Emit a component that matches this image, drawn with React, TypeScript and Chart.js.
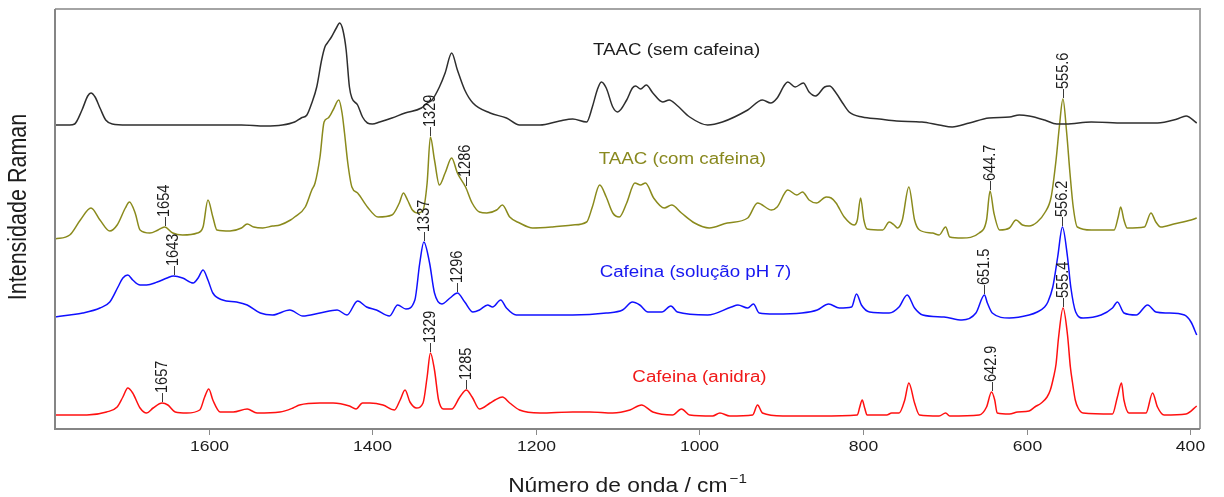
import { useEffect, useRef } from 'react';
import { Chart, registerables } from 'chart.js';

Chart.register(...registerables);

// Raman spectra: [wavenumber (cm-1), intensity (a.u.)], traces already stacked with offsets
const taacSemCafeina: [number, number][] = [
  [1788, 305], [1770, 305], [1764, 306], [1755, 320], [1748, 334], [1744, 337], [1739, 333], [1733, 322],
  [1726, 310], [1718, 306], [1700, 305], [1650, 305], [1600, 305], [1560, 305], [1531, 304], [1510, 305],
  [1495, 308], [1487, 312], [1480, 315], [1474, 327], [1468, 343], [1462, 370], [1458, 383], [1455, 387],
  [1450, 393], [1444, 402], [1440, 407], [1436, 400], [1432, 380], [1428, 343], [1425, 332], [1418, 325],
  [1412, 313], [1406, 307], [1400, 306], [1391, 308], [1376, 312], [1360, 317], [1340, 322], [1333, 327],
  [1327, 330], [1318, 343], [1311, 357], [1303, 377], [1296, 360], [1287, 340], [1277, 327], [1256, 317],
  [1236, 312], [1220, 305], [1195, 305], [1171, 309], [1155, 311], [1138, 308], [1131, 323], [1125, 340],
  [1120, 348], [1114, 342], [1106, 323], [1100, 318], [1089, 330], [1082, 342], [1078, 344], [1072, 341],
  [1065, 345], [1057, 337], [1045, 328], [1037, 330], [1028, 325], [1012, 313], [990, 305], [972, 308],
  [941, 320], [923, 330], [913, 327], [905, 332], [896, 345], [892, 348], [883, 343], [873, 347],
  [866, 338], [858, 334], [847, 343], [841, 344], [833, 337], [825, 327], [817, 318], [801, 313],
  [780, 311], [759, 309], [728, 308], [707, 305], [691, 303], [670, 307], [646, 312], [621, 313],
  [609, 315], [597, 314], [578, 310], [563, 306], [552, 306], [521, 308], [481, 307], [440, 307],
  [416, 311], [405, 314], [392, 307],
];

const taacComCafeina: [number, number][] = [
  [1788, 191], [1770, 195], [1757, 210], [1744, 222], [1733, 210], [1721, 199], [1712, 205], [1702, 222],
  [1697, 228], [1690, 217], [1684, 200], [1672, 197], [1662, 200], [1654, 203], [1644, 197], [1632, 195],
  [1614, 197], [1607, 203], [1601, 230], [1595, 213], [1590, 200], [1574, 199], [1560, 202], [1553, 206],
  [1545, 203], [1534, 202], [1522, 204], [1513, 205], [1500, 210], [1495, 213], [1482, 223], [1474, 240],
  [1470, 247], [1464, 273], [1459, 308], [1454, 312], [1448, 320], [1441, 330], [1437, 317], [1434, 297],
  [1430, 267], [1425, 243], [1418, 237], [1406, 223], [1393, 213], [1376, 215], [1367, 227], [1362, 237],
  [1357, 230], [1351, 220], [1344, 217], [1338, 220], [1333, 247], [1329, 293], [1324, 270], [1318, 245],
  [1311, 257], [1303, 272], [1296, 257], [1286, 243], [1278, 227], [1269, 218], [1260, 217], [1248, 220],
  [1241, 225], [1232, 213], [1220, 207], [1204, 202], [1180, 203], [1155, 205], [1138, 208], [1131, 223],
  [1122, 245], [1114, 233], [1106, 217], [1098, 213], [1089, 227], [1079, 247], [1072, 245], [1066, 247],
  [1056, 232], [1043, 222], [1034, 225], [1022, 217], [1006, 207], [988, 202], [966, 207], [941, 212],
  [929, 227], [912, 220], [905, 223], [892, 240], [881, 235], [874, 238], [866, 230], [857, 227],
  [845, 233], [839, 232], [833, 227], [823, 213], [811, 205], [807, 210], [803, 232], [799, 210],
  [795, 201], [776, 200], [768, 208], [762, 205], [758, 202], [752, 210], [744, 243], [737, 210],
  [731, 200], [715, 197], [707, 195], [699, 203], [694, 193], [679, 192], [658, 197], [649, 210],
  [644.7, 239], [640, 217], [633, 200], [621, 202], [613, 210], [605, 205], [597, 204], [587, 208],
  [578, 217], [570, 233], [564, 270], [560, 303], [555.6, 331], [551, 297], [547, 257], [543, 223],
  [538, 203], [521, 200], [493, 200], [488, 213], [485, 223], [481, 210], [477, 202], [456, 203],
  [448, 217], [442, 208], [436, 203], [420, 206], [399, 210], [392, 212],
];

const cafeinaSolucao: [number, number][] = [
  [1788, 113], [1770, 115], [1754, 117], [1733, 122], [1721, 128], [1711, 143], [1705, 152], [1699, 155],
  [1693, 150], [1684, 145], [1676, 145], [1663, 148], [1651, 152], [1643, 154], [1632, 152], [1619, 147],
  [1613, 152], [1607, 160], [1601, 150], [1595, 137], [1583, 130], [1566, 128], [1553, 125], [1537, 117],
  [1522, 115], [1501, 120], [1485, 114], [1464, 117], [1443, 120], [1431, 115], [1418, 129], [1407, 123],
  [1395, 120], [1379, 114], [1369, 125], [1359, 121], [1348, 130], [1342, 167], [1337, 188], [1330, 167],
  [1324, 137], [1315, 126], [1305, 132], [1296, 137], [1287, 128], [1277, 118], [1269, 120], [1259, 125],
  [1253, 123], [1243, 130], [1236, 122], [1224, 115], [1195, 115], [1155, 115], [1114, 117], [1094, 120],
  [1082, 128], [1073, 125], [1063, 118], [1046, 118], [1035, 124], [1027, 118], [990, 115], [961, 123],
  [953, 125], [941, 122], [934, 126], [927, 117], [908, 116], [875, 117], [856, 120], [842, 126],
  [829, 122], [814, 123], [808, 136], [802, 125], [792, 118], [768, 117], [756, 123], [746, 135],
  [737, 122], [727, 115], [701, 113], [679, 110], [662, 117], [651.5, 135], [648, 127], [642, 117],
  [621, 112], [597, 115], [587, 118], [578, 123], [574, 128], [568, 143], [562, 173], [556.2, 203],
  [550, 173], [546, 143], [540, 118], [531, 112], [509, 115], [495, 122], [489, 128], [481, 117],
  [466, 115], [452, 125], [442, 118], [428, 117], [407, 115], [399, 108], [392, 95],
];

const cafeinaAnidra: [number, number][] = [
  [1788, 15], [1749, 15], [1725, 18], [1712, 23], [1705, 33], [1699, 42], [1693, 37], [1684, 22],
  [1676, 17], [1668, 22], [1657, 27], [1650, 25], [1641, 18], [1627, 17], [1611, 20], [1605, 33],
  [1600, 41], [1595, 30], [1586, 18], [1570, 18], [1553, 21], [1541, 17], [1513, 18], [1497, 22],
  [1489, 25], [1464, 27], [1448, 27], [1428, 24], [1420, 21], [1412, 27], [1403, 27], [1387, 25],
  [1373, 20], [1366, 30], [1360, 40], [1354, 28], [1346, 22], [1338, 27], [1333, 53], [1329, 77],
  [1324, 60], [1319, 30], [1313, 21], [1303, 21], [1293, 33], [1285, 40], [1278, 33], [1269, 21],
  [1256, 27], [1250, 30], [1241, 33], [1232, 27], [1220, 20], [1195, 17], [1155, 18], [1134, 18],
  [1106, 17], [1085, 20], [1071, 25], [1057, 18], [1033, 15], [1022, 21], [1012, 15], [984, 14],
  [975, 17], [963, 14], [935, 15], [929, 25], [923, 17], [898, 14], [853, 14], [807, 15],
  [804, 23], [801, 30], [798, 22], [795, 15], [771, 15], [765, 17], [756, 17], [749, 30],
  [744, 47], [737, 27], [731, 15], [707, 14], [699, 17], [694, 14], [658, 15], [649, 23],
  [642.9, 38], [639, 30], [636, 17], [621, 16], [611, 18], [597, 19], [590, 23], [582, 27],
  [575, 33], [571, 40], [567, 53], [564, 66], [561, 92], [555.4, 122], [550, 95], [546.5, 63],
  [544, 48], [540.5, 30], [537, 22], [531, 17], [495, 16], [489, 33], [484, 47], [481, 30],
  [475, 17], [454, 17], [446, 37], [440, 23], [432, 15], [405, 16], [392, 24],
];

const seriesNames = ['TAAC (sem cafeina)', 'TAAC (com cafeina)', 'Cafeina (solução pH 7)', 'Cafeina (anidra)'];

// annotated band positions (cm-1) for each trace
const peaksSemCafeina: number[] = [];
const peaksComCafeina = [1654, 1329, 1286, 644.7, 555.6];
const peaksSolucao = [1643, 1337, 1296, 651.5, 556.2];
const peaksAnidra = [1657, 1329, 1285, 642.9, 555.4];

const xTicks = [1600, 1400, 1200, 1000, 800, 600, 400];

const X_MIN = 388;
const X_MAX = 1788;

// styling
const FONT = '"Liberation Sans", Arial, Helvetica, sans-serif';
const STRETCH = 1.17;
const lineColors = ['#2e2e2e', '#8a8a1c', '#1010ff', '#ff1010'];
const captionColors = ['#1c1c1c', '#88881e', '#1818f0', '#f01818'];
// caption anchor in data units: [centre wavenumber, baseline intensity]
const captionAnchors: [number, number][] = [[1028, 375], [1021, 266], [1005, 153], [1000, 48.5]];

function drawText(
  ctx: CanvasRenderingContext2D,
  text: string,
  x: number,
  y: number,
  font: string,
  color: string,
  align: CanvasTextAlign,
  baseline: CanvasTextBaseline,
  rotate = false,
) {
  ctx.save();
  ctx.translate(x, y);
  ctx.scale(STRETCH, 1);
  if (rotate) ctx.rotate(-Math.PI / 2);
  ctx.font = font;
  ctx.fillStyle = color;
  ctx.textAlign = align;
  ctx.textBaseline = baseline;
  ctx.fillText(text, 0, 0);
  ctx.restore();
}

const decorPlugin = {
  id: 'ramanDecor',
  afterDraw(chart: any) {
    const { ctx, chartArea: a, scales } = chart;
    const xs = scales.x;
    const ys = scales.y;

    // frame
    ctx.save();
    ctx.lineWidth = 2;
    ctx.strokeStyle = '#a4a4a4';
    ctx.beginPath();
    ctx.moveTo(a.left, a.top);
    ctx.lineTo(a.right, a.top);
    ctx.lineTo(a.right, a.bottom);
    ctx.stroke();
    ctx.strokeStyle = '#858585';
    ctx.beginPath();
    ctx.moveTo(a.left, a.top);
    ctx.lineTo(a.left, a.bottom);
    ctx.lineTo(a.right, a.bottom);
    ctx.stroke();

    // ticks and tick labels
    ctx.lineWidth = 1;
    ctx.strokeStyle = '#8a8a8a';
    xTicks.forEach((v) => {
      const px = Math.round(xs.getPixelForValue(v)) + 0.5;
      ctx.beginPath();
      ctx.moveTo(px, a.bottom + 1);
      ctx.lineTo(px, a.bottom + 6);
      ctx.stroke();
      drawText(ctx, String(v), px, a.bottom + 22, `15px ${FONT}`, '#1c1c1c', 'center', 'alphabetic');
    });
    ctx.restore();

    // axis titles
    const title = 'Número de onda / cm';
    ctx.save();
    ctx.font = `19.5px ${FONT}`;
    const wMain = ctx.measureText(title).width * STRETCH;
    ctx.font = `13px ${FONT}`;
    const wSup = ctx.measureText('\u22121').width * STRETCH;
    ctx.restore();
    const tx = (a.left + a.right) / 2 - (wMain + wSup + 2) / 2;
    drawText(ctx, title, tx, 492, `19.5px ${FONT}`, '#1c1c1c', 'left', 'alphabetic');
    drawText(ctx, '\u22121', tx + wMain + 2, 483, `13px ${FONT}`, '#1c1c1c', 'left', 'alphabetic');
    drawText(ctx, 'Intensidade Raman', 19, 207, `21.5px ${FONT}`, '#1c1c1c', 'center', 'middle', true);

    // trace captions
    seriesNames.forEach((name, i) => {
      const [cw, ci] = captionAnchors[i];
      drawText(ctx, name, xs.getPixelForValue(cw), ys.getPixelForValue(ci), `16px ${FONT}`, captionColors[i], 'center', 'alphabetic');
    });

    // peak labels with leader lines
    const peakSets = [peaksSemCafeina, peaksComCafeina, peaksSolucao, peaksAnidra];
    peakSets.forEach((peaks, di) => {
      const meta = chart.getDatasetMeta(di);
      const raw = chart.data.datasets[di].data as { x: number; y: number }[];
      peaks.forEach((v) => {
        const idx = raw.findIndex((p) => p.x === v);
        if (idx < 0) return;
        const pt = meta.data[idx];
        const px = pt.x;
        const py = pt.y;
        ctx.save();
        ctx.strokeStyle = '#3a3a3a';
        ctx.lineWidth = 1;
        ctx.beginPath();
        ctx.moveTo(Math.round(px) + 0.5, py - 1);
        ctx.lineTo(Math.round(px) + 0.5, py - 10);
        ctx.stroke();
        ctx.restore();
        drawText(ctx, String(v), px, py - 10, `14.5px ${FONT}`, '#1c1c1c', 'left', 'middle', true);
      });
    });
  },
};

export default function App() {
  const canvasRef = useRef<HTMLCanvasElement | null>(null);

  useEffect(() => {
    if (!canvasRef.current) return;
    const traces = [taacSemCafeina, taacComCafeina, cafeinaSolucao, cafeinaAnidra];
    const chart = new Chart(canvasRef.current, {
      type: 'line',
      data: {
        datasets: traces.map((t, i) => ({
          label: seriesNames[i],
          data: t.map(([x, y]) => ({ x, y })),
          borderColor: lineColors[i],
          borderWidth: 1.5,
          pointRadius: 0,
          cubicInterpolationMode: 'monotone' as const,
          fill: false,
        })),
      },
      options: {
        animation: false,
        responsive: false,
        maintainAspectRatio: false,
        layout: { padding: { left: 55, right: 24, top: 9, bottom: 68 } },
        plugins: { legend: { display: false }, tooltip: { enabled: false } },
        scales: {
          x: { type: 'linear', reverse: true, min: X_MIN, max: X_MAX, display: false },
          y: { type: 'linear', min: 1, max: 421, display: false },
        },
      },
      plugins: [decorPlugin],
    });
    return () => chart.destroy();
  }, []);

  return (
    <div style={{ position: 'fixed', left: 0, top: 0, width: 1224, height: 497, background: '#fff' }}>
      <canvas ref={canvasRef} width={1224} height={497} style={{ width: 1224, height: 497, display: 'block' }} />
    </div>
  );
}
